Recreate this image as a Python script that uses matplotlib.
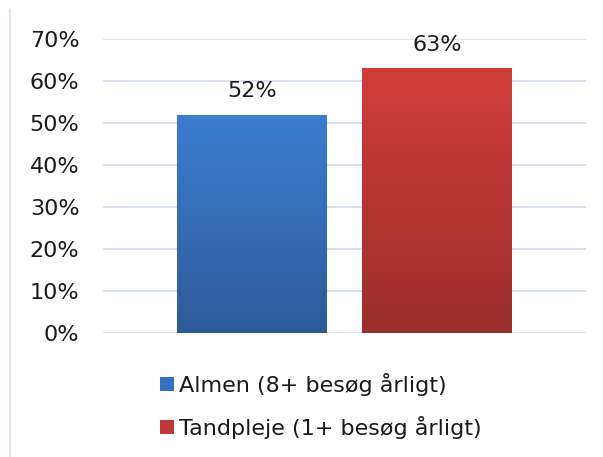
import numpy as np
import matplotlib.pyplot as plt
from matplotlib.patches import Patch
from matplotlib.lines import Line2D
from matplotlib.colors import LinearSegmentedColormap

plt.rcParams['font.family'] = ['DejaVu Sans']

series = ['Almen (8+ besøg årligt)', 'Tandpleje (1+ besøg årligt)']
values = [0.52, 0.63]
top_colors = ['#3c7dd2', '#d13d3b']
bottom_colors = ['#2d5b98', '#9a2e2c']
legend_colors = ['#3470bf', '#c0393a']
yticks = [0, 0.1, 0.2, 0.3, 0.4, 0.5, 0.6, 0.7]

fig = plt.figure(figsize=(6.03, 4.57), dpi=100)
ax = fig.add_axes([103/603, 1-333/457, 483/603, 294/457])

x = np.arange(len(values))
width = 150/185
bars = ax.bar(x, values, width=width, color='none', zorder=3)

# gradient fill for each bar
grad = np.linspace(0, 1, 256).reshape(-1, 1)
for b, top, bot in zip(bars, top_colors, bottom_colors):
    cmap = LinearSegmentedColormap.from_list('g', [bot, top])
    x0, y0 = b.get_x(), b.get_y()
    w, h = b.get_width(), b.get_height()
    im = ax.imshow(grad, cmap=cmap, aspect='auto', origin='lower',
                   extent=[x0, x0 + w, y0, y0 + h], zorder=3)
    im.set_clip_path(b)

for xi, v in zip(x, values):
    ax.annotate('%d%%' % round(v*100), (xi, v), xytext=(0, 10),
                textcoords='offset points', ha='center', va='bottom',
                fontsize=16, color='#1a1a1a')

ax.set_xlim(-149/185, 334/185)
ax.set_ylim(0, 0.7)
ax.set_yticks(yticks)
ax.set_yticklabels(['%d%%' % round(t*100) for t in yticks], fontsize=16, color='#1a1a1a')
ax.set_xticks([])
ax.tick_params(axis='y', length=0, pad=17)
ax.grid(axis='y', color='#d6e1f0', linewidth=1.4, zorder=0)
ax.set_axisbelow(True)
for s in ax.spines.values():
    s.set_visible(False)

# left border line of the chart area
fig.add_artist(Line2D([10/603, 10/603], [0, 1-10/457], color='#dce6f2',
                      linewidth=1.5, transform=fig.transFigure))

handles = [Patch(facecolor=c, edgecolor='none') for c in legend_colors]
fig.legend(handles, series, loc='upper left',
           bbox_to_anchor=(151/603, 1-364/457), frameon=False,
           fontsize=16, handlelength=0.62, handleheight=0.62,
           handletextpad=0.25, labelspacing=0.9, borderaxespad=0,
           labelcolor='#1a1a1a')

fig.savefig('out.png', dpi=100)
